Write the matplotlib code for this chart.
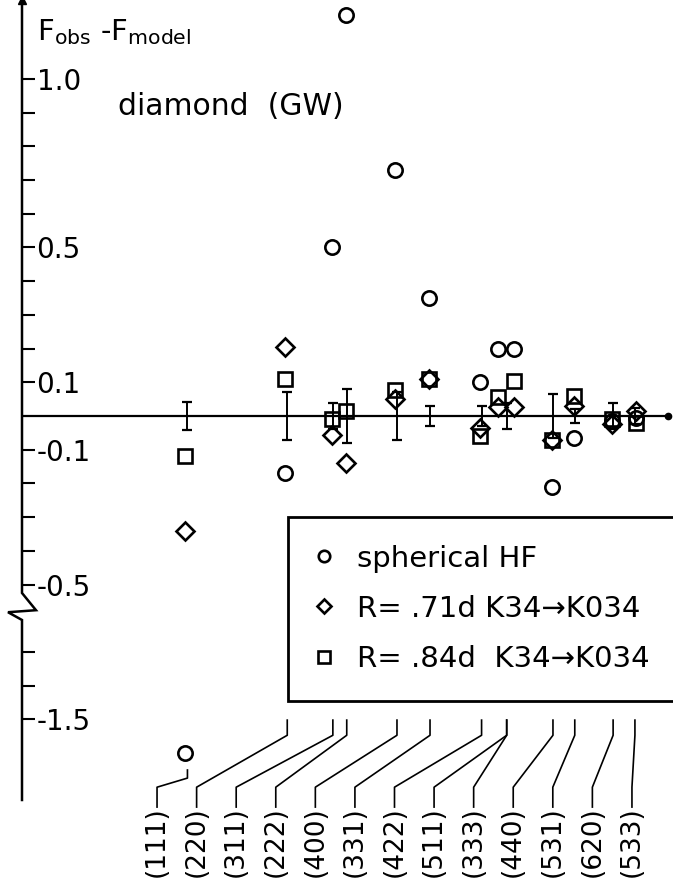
import numpy as np
import matplotlib
matplotlib.use("Agg")
import matplotlib.pyplot as plt

# ---------------- data ----------------
hkl = ["(111)", "(220)", "(311)", "(222)", "(400)", "(331)", "(422)",
       "(511)", "(333)", "(440)", "(531)", "(620)", "(533)"]
# sin(theta)/lambda of each reflection (top of the leader line)
stl = [0.242, 0.393, 0.462, 0.483, 0.559, 0.609, 0.687,
       0.725, 0.725, 0.795, 0.828, 0.886, 0.919]
# x of the plotted symbols ((511) and (333) drawn side by side)
x_pts = [0.238, 0.390, 0.461, 0.482, 0.556, 0.607, 0.685,
         0.712, 0.736, 0.793, 0.827, 0.884, 0.920]
# F_obs - F_model
hf_spherical = [-1.60, -0.17, 0.50, 1.19, 0.73, 0.35, 0.10,
                0.20, 0.20, -0.21, -0.065, -0.015, -0.005]
r071 = [-0.34, 0.205, -0.056, -0.14, 0.05, 0.11, -0.035,
        0.027, 0.027, -0.07, 0.03, -0.025, 0.015]
r084 = [-0.12, 0.11, -0.01, 0.015, 0.077, 0.11, -0.06,
        0.057, 0.104, -0.07, 0.06, -0.01, -0.02]
sigma = [0.042, 0.07, 0.04, 0.08, 0.07, 0.03, 0.03,
         0.04, np.nan, 0.065, 0.02, 0.04, 0.025]

tick_vals = [1.0, 0.9, 0.8, 0.7, 0.6, 0.5, 0.4, 0.3, 0.2, 0.1,
             -0.1, -0.2, -0.3, -0.4, -0.5, -1.3, -1.4, -1.5]
tick_text = {1.0: "1.0", 0.5: "0.5", 0.1: "0.1", -0.1: "-0.1",
             -0.5: "-0.5", -1.5: "-1.5"}
legend_labels = ["spherical HF", "R= .71d K34\u2192K034", "R= .84d  K34\u2192K034"]

# broken axis: values below the break are shifted up by 0.6
BREAK, SHIFT = -0.6, 0.6


def disp(v):
    v = np.asarray(v, dtype=float)
    return np.where(v < BREAK, v + SHIFT, v)


# ---------------- figure ----------------
W, H = 673, 883
fig = plt.figure(figsize=(W / 100, H / 100), dpi=100)
ax = fig.add_axes([22 / W, 83 / H, 651 / W, 800 / H])
ax.set_xlim(-0.0083, 0.9766)
ax.set_ylim(-1.139, 1.234)
for sp in ax.spines.values():
    sp.set_visible(False)
ax.set_xticks([])

lw_m = 1.9
# zero line with end dot
ax.axhline(0, xmin=0, xmax=0.992, color="k", lw=1.6, zorder=1)
ax.plot([0.992], [0], "o", ms=4.5, color="k", transform=ax.get_yaxis_transform(),
        clip_on=False)

# y axis with break and arrow
yt = ax.get_yaxis_transform()
ax.plot([0, 0, 0.0215, -0.0215, 0, 0],
        [1.234, -0.525, -0.576, -0.582, -0.605, -1.139],
        color="k", lw=1.8, transform=yt, clip_on=False, solid_joinstyle="miter")
ax.plot([0], [1.0], marker="^", ms=6, color="k", transform=ax.transAxes, clip_on=False)

ax.set_yticks(disp(tick_vals))
ax.set_yticklabels([tick_text.get(v, "") for v in tick_vals])
ax.tick_params(axis="y", direction="in", length=9, width=1.5, pad=-10.5,
               labelsize=20)
for lab in ax.get_yticklabels():
    lab.set_horizontalalignment("left")

# error bars
ax.errorbar(stl, np.zeros(len(stl)), yerr=sigma, fmt="none", ecolor="k",
            elinewidth=1.4, capsize=3.3, capthick=1.6, zorder=2)

# data symbols
h1, = ax.plot(x_pts, disp(hf_spherical), "o", ms=10.3, mfc="none", mec="k", mew=lw_m,
              clip_on=False, zorder=3)
h2, = ax.plot(x_pts, disp(r071), "D", ms=9.3, mfc="none", mec="k", mew=lw_m,
              zorder=3)
h3, = ax.plot(x_pts, disp(r084), "s", ms=10.0, mfc="none", mec="k", mew=lw_m,
              zorder=3)

# texts
ax.text(0.0144, 1.116, r"F$_\mathregular{obs}$ -F$_\mathregular{model}$",
        fontsize=21, va="baseline", ha="left")
ax.text(0.137, 0.893, "diamond  (GW)", fontsize=21.5, va="baseline", ha="left")

# legend
leg = ax.legend([h1, h2, h3], legend_labels, loc="upper left",
                bbox_to_anchor=(0.4086, 0.0, 0.75, 0.354), mode="expand",
                borderaxespad=0, fontsize=21, frameon=True, fancybox=False,
                framealpha=1, handlelength=0.55, handletextpad=0.86,
                borderpad=0.95, labelspacing=0.76, markerscale=0.8)
leg.get_frame().set_edgecolor("k")
leg.get_frame().set_linewidth(2.0)

# reflection labels with leader lines
lab_x = np.linspace(0.196, 0.9145, len(hkl))
for i, (name, s) in enumerate(zip(hkl, stl)):
    if i == 0:
        xs = [lab_x[i], lab_x[i], s, s]
        ys = [-1.16, -1.101, -1.074, -1.05]
    else:
        xs = [lab_x[i], lab_x[i], s, s]
        ys = [-1.16, -1.101, -0.947, -0.902]
    ax.plot(xs, ys, color="k", lw=1.2, clip_on=False)
    ax.text(lab_x[i], -1.158, name, rotation=90, ha="center", va="top",
            fontsize=19)

fig.savefig("out.png", dpi=100)
